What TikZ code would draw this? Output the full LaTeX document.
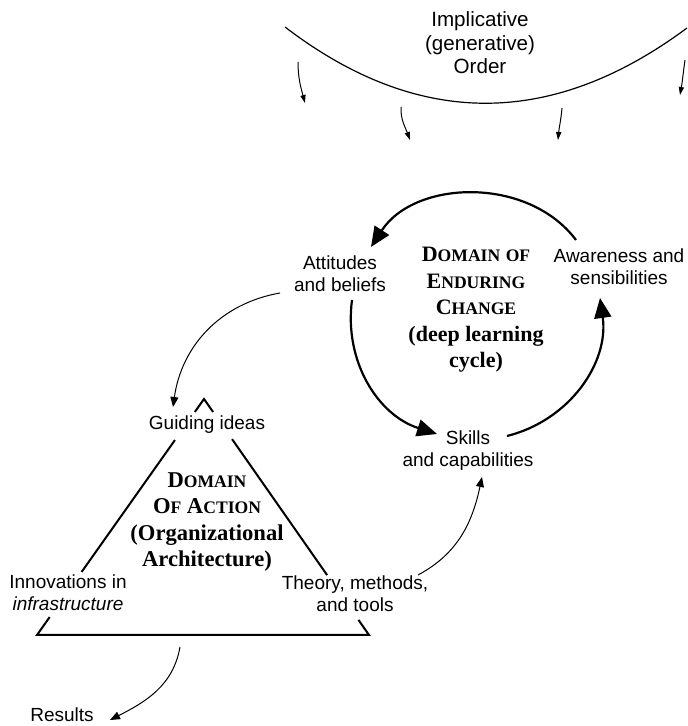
\documentclass[tikz,border=0pt]{standalone}
\usepackage{fontspec}
\setmainfont{Liberation Serif}
\setsansfont{Liberation Sans}
\usepackage{tikz}
\usetikzlibrary{arrows.meta}
\usetikzlibrary{calc}
\newcommand{\smc}[1]{{\fontsize{8.8}{10}\selectfont #1}}
\tikzset{
  lbl/.style={font=\sffamily\fontsize{9.5}{11}\selectfont, align=center, inner sep=1pt},
  dom/.style={font=\bfseries\fontsize{11}{13.25}\selectfont, align=center, inner sep=1pt},
  cyc/.style={line width=1.1pt, -{Triangle[length=10pt,width=8.5pt]}},
  thinarr/.style={line width=0.5pt, -{Triangle[length=5pt,width=4pt]}},
  droparr/.style={line width=0.5pt, -{Triangle[length=4pt,width=2.6pt]}},
  tri/.style={line width=1pt}
}

\begin{document}
\begin{tikzpicture}[x=0.5pt,y=0.5pt]
    \path[use as bounding box] (0,0) rectangle (687,726);

    % implicative order
    \coordinate (arcL) at (285,699);
    \coordinate (arcR) at (687,698);
    \draw[line width=0.6pt] (arcL) .. controls (417,598) and (551,597) .. (arcR);
    \node[lbl, font=\sffamily\fontsize{10.3}{11.75}\selectfont] (ord) at (480,683) {Implicative\\(generative)\\Order};

    \coordinate (d1s) at (298,664); \coordinate (d1e) at (305,623);
    \coordinate (d2s) at (401,619); \coordinate (d2e) at (410,586);
    \coordinate (d3s) at (562,618); \coordinate (d3e) at (558,586);
    \coordinate (d4s) at (685,666); \coordinate (d4e) at (680,631);
    \draw (d1s) edge[droparr, out=270, in=105] (d1e);
    \draw (d2s) edge[droparr, out=268, in=110] (d2e);
    \draw (d3s) edge[droparr, out=265, in=85] (d3e);
    \draw (d4s) edge[droparr, out=262, in=80] (d4e);

    % deep learning cycle
    \node[lbl] (att) at (340,452) {Attitudes\\and beliefs};
    \node[lbl] (aw) at (619,459) {Awareness and\\sensibilities};
    \node[lbl] (sk) at (468,275) {Skills\\and capabilities};
    \node[dom] (dec) at (476,416) {D\smc{OMAIN} \smc{OF}\\E\smc{NDURING}\\C\smc{HANGE}\\(deep learning\\cycle)};

    \coordinate (aw-out) at (576,486);  \coordinate (att-in) at (371,479);
    \coordinate (att-out) at (352,426); \coordinate (sk-in) at (437,292);
    \coordinate (sk-out) at (507,290);  \coordinate (aw-in) at (600,428);
    \draw (aw-out) edge[cyc, bend right=55] (att-in);
    \draw (att-out) edge[cyc, bend right=40] (sk-in);
    \draw (sk-out) edge[cyc, bend right=42] (aw-in);

    % domain of action
    \coordinate (apex) at (204,327);
    \coordinate (bl) at (37,91);
    \coordinate (br) at (369,91);
    \draw[tri] ($(apex)!0.055!(bl)$) -- (apex) -- ($(apex)!0.055!(br)$);
    \draw[tri] ($(apex)!0.174!(bl)$) -- ($(apex)!0.733!(bl)$);
    \draw[tri] ($(apex)!0.17!(br)$) -- ($(apex)!0.746!(br)$);
    \draw[tri] ($(apex)!0.924!(bl)$) -- (bl) -- (br) -- ($(apex)!0.936!(br)$);

    \node[lbl] (gi) at (207,301) {Guiding ideas};
    \node[lbl] (inn) at (68,133) {Innovations in\\\textit{infrastructure}};
    \node[lbl] (thy) at (355,132) {Theory, methods,\\and tools};
    \node[lbl] (res) at (62,11) {Results};
    \node[dom, font=\bfseries\fontsize{11.3}{13.2}\selectfont] (doa) at (207,204) {D\smc{OMAIN}\\O\smc{F} A\smc{CTION}\\(Organizational\\Architecture)};

    \coordinate (att-gi) at (280,433); \coordinate (gi-in) at (173,319);
    \coordinate (thy-sk) at (418,151); \coordinate (sk-up) at (482,249);
    \coordinate (tri-res) at (180,79); \coordinate (res-in) at (110,6);
    \draw (att-gi) edge[thinarr, out=190, in=82] (gi-in);
    \draw (thy-sk) edge[thinarr, out=28, in=258] (sk-up);
    \draw (tri-res) edge[thinarr, out=260, in=27] (res-in);
\end{tikzpicture}
\end{document}
